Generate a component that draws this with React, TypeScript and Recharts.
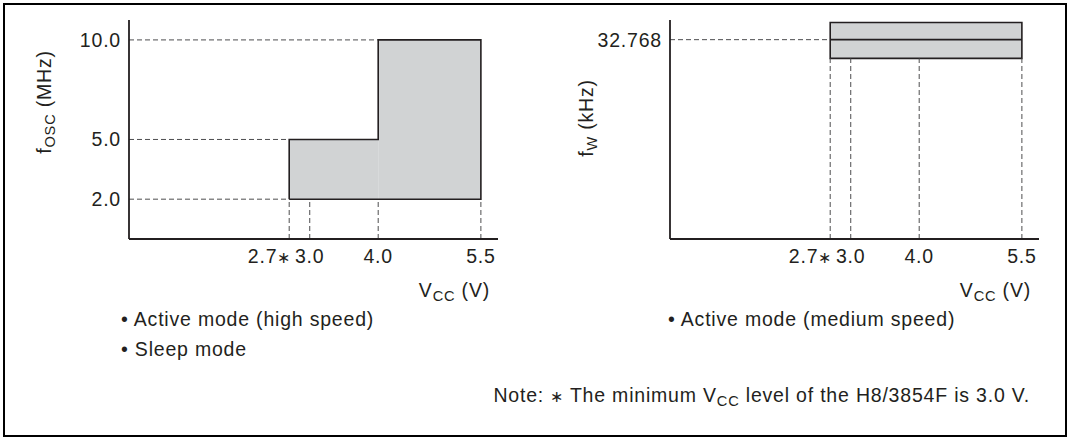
import React from 'react'
import { ComposedChart, Line, XAxis, YAxis, ReferenceArea, ReferenceLine } from 'recharts'

// Vcc axis (shared by both panels)
const vccTicks = [2.7, 3.0, 4.0, 5.5]
const vccDomain = [0.36, 5.75]

// left panel: fOSC (MHz) vs Vcc
const oscTicks = [2.0, 5.0, 10.0]
const oscDomain = [0, 11]
const oscMin = 2.0
const oscSteps = [
  { from: 2.7, to: 4.0, max: 5.0 },
  { from: 4.0, to: 5.5, max: 10.0 },
]
const oscOutline = [
  { vcc: 2.7, f: 2.0 },
  { vcc: 2.7, f: 5.0 },
  { vcc: 4.0, f: 5.0 },
  { vcc: 4.0, f: 10.0 },
  { vcc: 5.5, f: 10.0 },
  { vcc: 5.5, f: 2.0 },
  { vcc: 2.7, f: 2.0 },
]

// right panel: fW (kHz) vs Vcc
const wTicks = [32.768]
const wDomain = [0, 36]
const wBand = [29.7, 35.6]
const wLine = [
  { vcc: 2.7, f: 32.768 },
  { vcc: 5.5, f: 32.768 },
]

const FONT = '"Liberation Sans", Arial, Helvetica, sans-serif'
const INK = '#231f20'
const GREY = '#d1d3d4'
const DASH = '#4d4d4f'
const FS = 19.5
const LS = '0.8px'

const W = 540
const H = 300
const margin = { top: 20, right: 42, bottom: 31, left: 0 }

const txt = { fontFamily: FONT, fontSize: FS, fill: INK, style: { letterSpacing: LS } }

function VccTick({ x, y, payload }: any) {
  const v = payload.value
  const star = Math.abs(v - 2.7) < 1e-6
  return (
    <text {...txt} x={star ? x + 2 : x} y={y} dy="0.71em" textAnchor={star ? 'end' : 'middle'}>
      {v.toFixed(1)}
      {star ? <tspan fontSize={FS * 0.8}>∗</tspan> : null}
    </text>
  )
}

function makeYTick(digits: number) {
  return function YTick({ x, y, payload }: any) {
    return (
      <text {...txt} x={x} y={y} dy="0.355em" textAnchor="end">
        {payload.value.toFixed(digits)}
      </text>
    )
  }
}
const OscTick = makeYTick(1)
const WTick = makeYTick(3)

const axisLine = { stroke: INK, strokeWidth: 1.8 }
const dashProps = { stroke: DASH, strokeWidth: 1, strokeDasharray: '5 3', ifOverflow: 'visible' as const }

function OscChart() {
  return (
    <ComposedChart width={W} height={H} data={oscOutline} margin={margin}>
      <XAxis
        dataKey="vcc"
        type="number"
        domain={vccDomain}
        allowDataOverflow
        ticks={vccTicks}
        tick={<VccTick />}
        tickLine={false}
        tickMargin={4}
        axisLine={axisLine}
        height={30}
      />
      <YAxis
        type="number"
        domain={oscDomain}
        allowDataOverflow
        ticks={oscTicks}
        width={129}
        tickLine={false}
        axisLine={axisLine}
        tick={<OscTick />}
      />
      {oscSteps.map((s) => (
        <ReferenceArea
          key={s.from}
          x1={s.from}
          x2={s.to}
          y1={oscMin}
          y2={s.max}
          fill={GREY}
          fillOpacity={1}
          stroke="none"
          ifOverflow="visible"
        />
      ))}
      <ReferenceLine segment={[{ x: vccDomain[0], y: 10.0 }, { x: 4.0, y: 10.0 }]} {...dashProps} />
      <ReferenceLine segment={[{ x: vccDomain[0], y: 5.0 }, { x: 2.7, y: 5.0 }]} {...dashProps} />
      <ReferenceLine segment={[{ x: vccDomain[0], y: oscMin }, { x: 2.7, y: oscMin }]} {...dashProps} />
      {vccTicks.map((v) => (
        <ReferenceLine key={v} segment={[{ x: v, y: 0 }, { x: v, y: oscMin }]} {...dashProps} />
      ))}
      <Line
        dataKey="f"
        type="linear"
        stroke={INK}
        strokeWidth={1.6}
        strokeLinejoin="miter"
        dot={false}
        activeDot={false}
        isAnimationActive={false}
      />
    </ComposedChart>
  )
}

function WatchChart() {
  return (
    <ComposedChart width={W} height={H} data={wLine} margin={margin}>
      <XAxis
        dataKey="vcc"
        type="number"
        domain={vccDomain}
        allowDataOverflow
        ticks={vccTicks}
        tick={<VccTick />}
        tickLine={false}
        tickMargin={4}
        axisLine={axisLine}
        height={30}
      />
      <YAxis
        type="number"
        domain={wDomain}
        allowDataOverflow
        ticks={wTicks}
        width={129}
        tickLine={false}
        axisLine={axisLine}
        tick={<WTick />}
      />
      <ReferenceArea
        x1={vccTicks[0]}
        x2={vccTicks[3]}
        y1={wBand[0]}
        y2={wBand[1]}
        fill={GREY}
        fillOpacity={1}
        stroke={INK}
        strokeWidth={1.6}
        ifOverflow="visible"
      />
      <ReferenceLine segment={[{ x: vccDomain[0], y: 32.768 }, { x: 2.7, y: 32.768 }]} {...dashProps} />
      {vccTicks.map((v) => (
        <ReferenceLine key={v} segment={[{ x: v, y: 0 }, { x: v, y: wBand[0] }]} {...dashProps} />
      ))}
      <Line
        dataKey="f"
        type="linear"
        stroke={INK}
        strokeWidth={1.6}
        dot={false}
        activeDot={false}
        isAnimationActive={false}
      />
    </ComposedChart>
  )
}

function Sub({ main, sub, rest }: { main: string; sub: string; rest: string }) {
  return (
    <>
      {main}
      <tspan fontSize={FS * 0.75} dy={4}>
        {sub}
      </tspan>
      <tspan dy={-4}>{rest}</tspan>
    </>
  )
}

export default function App() {
  return (
    <div style={{ position: 'absolute', left: 0, top: 0, width: 1073, height: 440, background: '#fff' }}>
      <svg width={1073} height={440} style={{ position: 'absolute', left: 0, top: 0 }}>
        <rect x={4} y={4} width={1062} height={432} fill="none" stroke="#000" strokeWidth={2} />
        {/* axis titles */}
        <text {...txt} x={51} y={102} textAnchor="middle" transform="rotate(-90 51 102)">
          <Sub main="f" sub="OSC" rest=" (MHz)" />
        </text>
        <text {...txt} x={593} y={118} textAnchor="middle" transform="rotate(-90 593 118)">
          <Sub main="f" sub="W" rest=" (kHz)" />
        </text>
        <text {...txt} x={490} y={297} textAnchor="end">
          <Sub main="V" sub="CC" rest=" (V)" />
        </text>
        <text {...txt} x={1031} y={297} textAnchor="end">
          <Sub main="V" sub="CC" rest=" (V)" />
        </text>
        {/* mode notes */}
        <text {...txt} x={121} y={326}>• Active mode (high speed)</text>
        <text {...txt} x={121} y={356}>• Sleep mode</text>
        <text {...txt} x={668} y={326}>• Active mode (medium speed)</text>
        <text {...txt} x={1030} y={402} textAnchor="end">
          Note: <tspan fontSize={FS * 0.8}>∗</tspan> The minimum V
          <tspan fontSize={FS * 0.75} dy={4}>
            CC
          </tspan>
          <tspan dy={-4}> level of the H8/3854F is 3.0 V.</tspan>
        </text>
      </svg>
      <div style={{ position: 'absolute', left: 0, top: 0 }}>
        <OscChart />
      </div>
      <div style={{ position: 'absolute', left: 541, top: 0 }}>
        <WatchChart />
      </div>
    </div>
  )
}
